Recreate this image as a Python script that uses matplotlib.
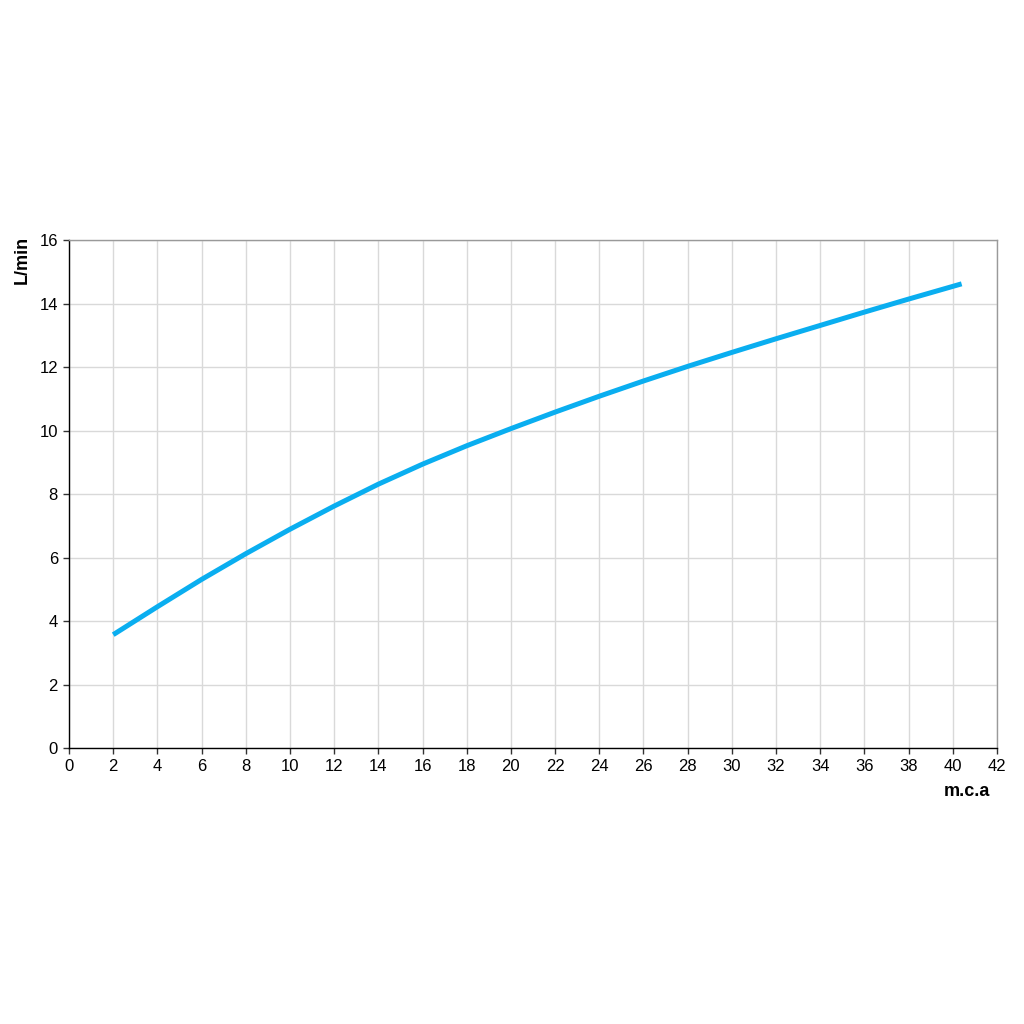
import matplotlib
matplotlib.use("Agg")
import matplotlib.pyplot as plt

plt.rcParams['font.family'] = ['Liberation Sans', 'DejaVu Sans']

pressure = [2, 4, 6, 8, 10, 12, 14, 16, 18, 20, 22, 24, 26, 28, 30, 32, 34, 36, 38, 40.4]
flow = [3.57, 4.45, 5.31, 6.12, 6.89, 7.62, 8.31, 8.94, 9.52, 10.06, 10.58, 11.08,
        11.56, 12.02, 12.46, 12.89, 13.31, 13.73, 14.14, 14.62]
x_ticks = list(range(0, 43, 2))
y_ticks = list(range(0, 17, 2))

fig = plt.figure(figsize=(10.24, 10.24), dpi=100)
ax = fig.add_axes([0.0674, 0.2695, 0.9062, 0.4961])

ax.plot(pressure, flow, color='#0aaef0', linewidth=3.6, solid_capstyle='butt',
        solid_joinstyle='round', zorder=3)

ax.set_xlim(0, 42)
ax.set_ylim(0, 16)
ax.set_xticks(x_ticks)
ax.set_yticks(y_ticks)
ax.tick_params(axis='both', labelsize=12, length=4, width=1, color='#333333', pad=4)
ax.grid(True, color='#d9d9d9', linewidth=1)
ax.set_axisbelow(True)

ax.spines['left'].set_color('black')
ax.spines['bottom'].set_color('black')
ax.spines['top'].set_color('#9a9a9a')
ax.spines['right'].set_color('#9a9a9a')
for s in ax.spines.values():
    s.set_linewidth(1)

fig.text(0.0215, 0.746, 'L/min', rotation=90, fontsize=13, fontweight='bold',
         ha='center', va='center')
fig.text(0.944, 0.227, 'm.c.a', fontsize=13, fontweight='bold', ha='center', va='center')

fig.savefig('out.png', dpi=100, facecolor='white')
